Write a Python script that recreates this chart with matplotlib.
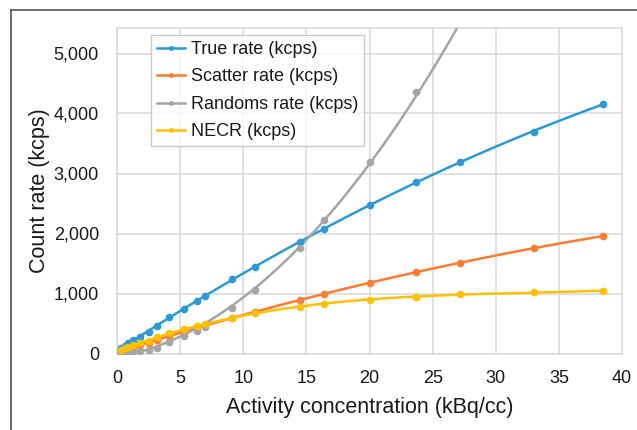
import numpy as np
import matplotlib
matplotlib.use("Agg")
import matplotlib.pyplot as plt
from matplotlib.lines import Line2D

plt.rcParams['font.family'] = ['Liberation Sans', 'DejaVu Sans']

# activity concentration (kBq/cc)
activity = [0.3, 0.6, 0.9, 1.3, 1.8, 2.5, 3.2, 4.1, 5.3, 6.3, 7.0, 9.1, 10.9,
            14.5, 16.4, 20.0, 23.7, 27.2, 33.0, 38.5]
true_rate = [95, 130, 175, 225, 275, 358, 458, 608, 742, 875, 958, 1242, 1442,
             1858, 2075, 2475, 2863, 3197, 3692, 4158]
scatter_rate = [45, 65, 90, 115, 140, 180, 225, 290, 360, 420, 470, 600, 700,
                892, 992, 1175, 1358, 1508, 1758, 1958]
randoms_rate = [2, 5, 10, 18, 35, 60, 100, 190, 285, 370, 440, 764, 1058,
                1758, 2225, 3192, 4363, 5598, 7848, 10476]
necr = [62, 85, 110, 140, 170, 215, 272, 342, 408, 458, 492, 592, 680,
        775, 825, 892, 942, 992, 1025, 1042]

series = [
    ("True rate (kcps)", true_rate, "#2b9bd8", 2),
    ("Scatter rate (kcps)", scatter_rate, "#ff7b30", 2),
    ("Randoms rate (kcps)", randoms_rate, "#a5a5a5", 2),
    ("NECR (kcps)", necr, "#ffc000", 3),
]

fig = plt.figure(figsize=(6.37, 4.30), dpi=100)
ax = fig.add_axes([117 / 637, 1 - 353.5 / 430, 505 / 637, 325.2 / 430])

x = np.array(activity)
xs = np.linspace(0.05, max(activity), 300)
handles = []
for label, vals, color, deg in series:
    coef = np.polyfit(x, np.array(vals, dtype=float), deg)
    ax.plot(xs, np.polyval(coef, xs), color=color, lw=1.8, zorder=3)
    ax.plot(x, vals, 'o', color=color, ms=4.5, zorder=4)
    handles.append(Line2D([0], [0], color=color, lw=1.8, marker='o', ms=2.5))

ax.set_xlim(0, 40)
ax.set_ylim(0, 5420)
ax.set_xticks(range(0, 41, 5))
ax.set_yticks(range(0, 5001, 1000))
ax.set_yticklabels([f"{v:,}" for v in range(0, 5001, 1000)])
ax.grid(True, color='#d9d9d9', lw=1.1)
ax.set_axisbelow(True)
for s in ax.spines.values():
    s.set_color('#d9d9d9')
    s.set_linewidth(1.1)
ax.tick_params(length=0, labelsize=13, colors='#1a1a1a', pad=12)
ax.tick_params(axis='y', pad=13)

ax.set_xlabel("Activity concentration (kBq/cc)", fontsize=15.5, color='#1a1a1a', labelpad=7)
ax.set_ylabel("Count rate (kcps)", fontsize=15.5, color='#1a1a1a', labelpad=3)

leg = ax.legend(handles, [s[0] for s in series], loc='upper left',
                bbox_to_anchor=(0.067, 0.979), borderaxespad=0, fontsize=13,
                frameon=True, fancybox=False, edgecolor='#bfbfbf',
                handlelength=1.55, handletextpad=0.33, labelspacing=0.58,
                borderpad=0.32)
leg.get_frame().set_linewidth(1.0)
for t in leg.get_texts():
    t.set_color('#1a1a1a')

# outer frame lines from the source crop
fig.add_artist(Line2D([11 / 637, 1], [1 - 9.5 / 430, 1 - 9.5 / 430], color='#555555', lw=1.2))
fig.add_artist(Line2D([11 / 637, 11 / 637], [0, 1 - 9.5 / 430], color='#555555', lw=1.2))

fig.savefig("out.png", dpi=100)
